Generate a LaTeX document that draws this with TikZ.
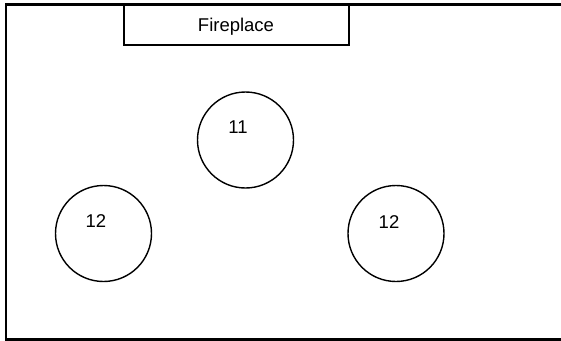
\documentclass[tikz,border=0pt]{standalone}
\usepackage{fontspec}
\setmainfont{Liberation Sans}
\begin{document}
\begin{tikzpicture}[x=1pt,y=-1pt,
  outer/.style={draw=black,line width=2.4pt},
  boxst/.style={draw=black,line width=1.6pt},
  seat/.style={draw=black,line width=1.4pt,circle,minimum size=96pt,inner sep=0pt},
  lbl/.style={inner sep=0pt,anchor=base,font=\fontsize{18.5}{20}\selectfont}]
\useasboundingbox (0,0) rectangle (561,340);
\begin{scope}
\clip (0,0) rectangle (561,340);
\draw[outer] (6.2,4.3) rectangle (575,339.3);
\end{scope}
\node[boxst,minimum width=225pt,minimum height=40pt,inner sep=0pt,anchor=north west] (fire) at (123,4.3) {};
\node[lbl] (firetxt) at (236,31.7) {Fireplace};
\node[seat] (c11) at (245.5,140) {};
\node[seat] (c12a) at (103.5,233.5) {};
\node[seat] (c12b) at (396,233.5) {};
\node[lbl] (t11) at (238,133.3) {11};
\node[lbl] (t12a) at (96,227.7) {12};
\node[lbl] (t12b) at (389,228.3) {12};
\end{tikzpicture}
\end{document}
